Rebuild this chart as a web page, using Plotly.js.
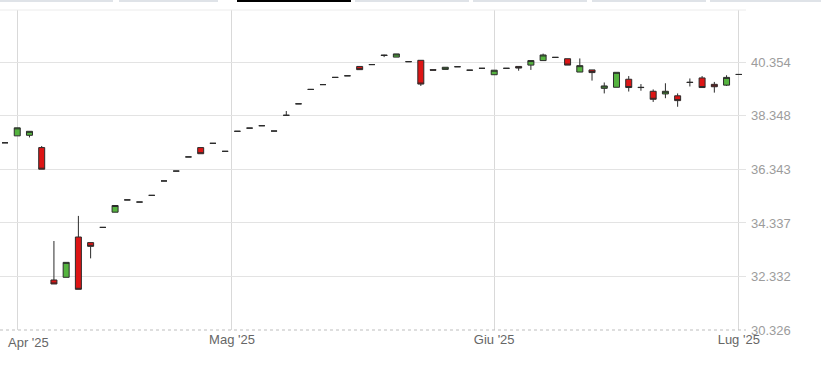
<!DOCTYPE html>
<html>
<head>
<meta charset="utf-8">
<script src="https://cdn.plot.ly/plotly-3.0.1.min.js"></script>
<style>
  html, body { margin: 0; padding: 0; background: #fff; }
  #chart { width: 821px; height: 375px; }
</style>
</head>
<body>
<div id="chart"></div>
<script>
// OHLC values per trading session
const openVals = [
  37.34, 37.60, 37.62, 37.16, 32.20, 32.30, 33.81, 33.60, 34.17, 34.74,
  35.20, 35.12, 35.37, 35.91, 36.28, 36.81, 37.16, 37.32, 37.02, 37.77,
  37.89, 37.98, 37.78, 38.37, 38.80, 39.34, 39.52, 39.79, 39.85, 40.20,
  40.27, 40.63, 40.55, 40.38, 40.43, 40.08, 40.09, 40.19, 40.06, 40.13,
  39.89, 40.13, 40.20, 40.25, 40.42, 40.54, 40.49, 39.99, 40.07, 39.38,
  39.42, 39.72, 39.42, 39.27, 39.17, 39.10, 39.61, 39.77, 39.53, 39.50,
  39.90
];
const highVals = [
  37.34, 37.90, 37.77, 37.22, 33.66, 32.86, 34.60, 33.60, 34.17, 34.99,
  35.20, 35.12, 35.37, 35.91, 36.28, 36.81, 37.16, 37.32, 37.02, 37.77,
  37.89, 37.98, 37.78, 38.53, 38.80, 39.34, 39.52, 39.79, 39.85, 40.20,
  40.27, 40.64, 40.67, 40.38, 40.43, 40.08, 40.17, 40.19, 40.06, 40.13,
  40.06, 40.13, 40.20, 40.42, 40.68, 40.54, 40.49, 40.50, 40.07, 39.60,
  39.98, 39.84, 39.54, 39.34, 39.57, 39.19, 39.75, 39.84, 39.62, 39.87,
  39.90
];
const lowVals = [
  37.34, 37.60, 37.54, 36.35, 32.05, 32.30, 31.85, 33.01, 34.17, 34.74,
  35.20, 35.12, 35.37, 35.91, 36.28, 36.81, 36.93, 37.32, 37.02, 37.77,
  37.89, 37.98, 37.78, 38.37, 38.80, 39.34, 39.52, 39.79, 39.85, 40.08,
  40.27, 40.55, 40.55, 40.38, 39.47, 40.06, 40.09, 40.19, 40.06, 40.13,
  39.89, 40.13, 40.04, 40.07, 40.42, 40.54, 40.25, 39.99, 39.67, 39.19,
  39.42, 39.26, 39.29, 38.87, 39.01, 38.69, 39.45, 39.41, 39.22, 39.47,
  39.90
];
const closeVals = [
  37.34, 37.90, 37.77, 36.35, 32.05, 32.86, 31.85, 33.46, 34.17, 34.99,
  35.20, 35.12, 35.37, 35.91, 36.28, 36.81, 36.93, 37.32, 37.02, 37.77,
  37.89, 37.98, 37.78, 38.37, 38.80, 39.34, 39.52, 39.79, 39.85, 40.08,
  40.27, 40.61, 40.67, 40.38, 39.54, 40.06, 40.17, 40.19, 40.06, 40.13,
  40.06, 40.13, 40.14, 40.42, 40.63, 40.54, 40.25, 40.23, 39.97, 39.47,
  39.98, 39.41, 39.41, 38.97, 39.27, 38.92, 39.60, 39.41, 39.44, 39.79,
  39.90
];

// Axis ticks
const monthTickPos = [1, 18.56, 40, 60];
const monthLabels = ["Apr '25", "Mag '25", "Giu '25", "Lug '25"];
const priceTicks = [30.326, 32.332, 34.337, 36.343, 38.348, 40.354];
const priceLabels = ["30.326", "32.332", "34.337", "36.343", "38.348", "40.354"];

const session = closeVals.map((_, i) => i);

const FONT = '"Liberation Sans", Arial, sans-serif';

const trace = {
  type: 'candlestick',
  x: session,
  open: openVals,
  high: highVals,
  low: lowVals,
  close: closeVals,
  increasing: { line: { color: '#2b2b2b', width: 1 }, fillcolor: '#55b43f' },
  decreasing: { line: { color: '#2b2b2b', width: 1 }, fillcolor: '#dd1515' },
  whiskerwidth: 0,
  hoverinfo: 'none',
  showlegend: false
};

// thin tab underlines at the very top of the picture (page decoration)
const tabSegments = [[0, 113, '#dfe3e8'], [119, 218, '#dfe3e8'], [237, 351, '#000000'],
  [355, 469, '#dfe3e8'], [473, 587, '#dfe3e8'], [592, 706, '#dfe3e8'], [710, 821, '#dfe3e8']];
const plotW = 746, plotH = 320, plotB = 330;
const tabShapes = tabSegments.map(s => ({
  type: 'line', xref: 'paper', yref: 'paper',
  x0: s[0] / plotW, x1: s[1] / plotW,
  y0: (plotB - 1) / plotH, y1: (plotB - 1) / plotH,
  line: { color: s[2], width: 2 }
}));

const layout = {
  width: 821,
  height: 375,
  margin: { l: 0, r: 75, t: 10, b: 45 },
  paper_bgcolor: '#ffffff',
  plot_bgcolor: '#ffffff',
  showlegend: false,
  hovermode: false,
  xaxis: {
    type: 'linear',
    range: [-0.41, 60.59],
    rangeslider: { visible: false },
    tickmode: 'array',
    tickvals: monthTickPos,
    ticktext: ['', monthLabels[1], monthLabels[2], monthLabels[3]],
    showgrid: true,
    gridcolor: '#d9d9d9',
    gridwidth: 1,
    zeroline: false,
    showline: false,
    ticks: '',
    tickfont: { family: FONT, size: 13, color: '#666666' },
    fixedrange: true
  },
  yaxis: {
    side: 'right',
    range: [30.326, 42.315],
    tickmode: 'array',
    tickvals: priceTicks,
    ticktext: priceLabels,
    showgrid: true,
    gridcolor: '#e3e3e3',
    gridwidth: 1,
    zeroline: false,
    showline: false,
    ticks: '',
    ticklabelstandoff: 4,
    tickfont: { family: FONT, size: 13, color: '#9c9c9c' },
    fixedrange: true
  },
  annotations: [
    {
      x: monthTickPos[0], xref: 'x', xanchor: 'left', xshift: -11,
      y: 0, yref: 'paper', yanchor: 'top', yshift: -3,
      text: monthLabels[0], showarrow: false,
      font: { family: FONT, size: 13, color: '#666666' }
    }
  ],
  shapes: [
    { type: 'line', xref: 'paper', yref: 'paper', x0: 0, x1: 1, y0: 0, y1: 0,
      line: { color: '#bdbdbd', width: 1, dash: 'dot' }, layer: 'above' },
    { type: 'line', xref: 'paper', yref: 'paper', x0: 0, x1: 1, y0: 1, y1: 1,
      line: { color: '#ececec', width: 1 } }
  ].concat(tabShapes)
};

Plotly.newPlot('chart', [trace], layout, { displayModeBar: false, staticPlot: true });
</script>
</body>
</html>
